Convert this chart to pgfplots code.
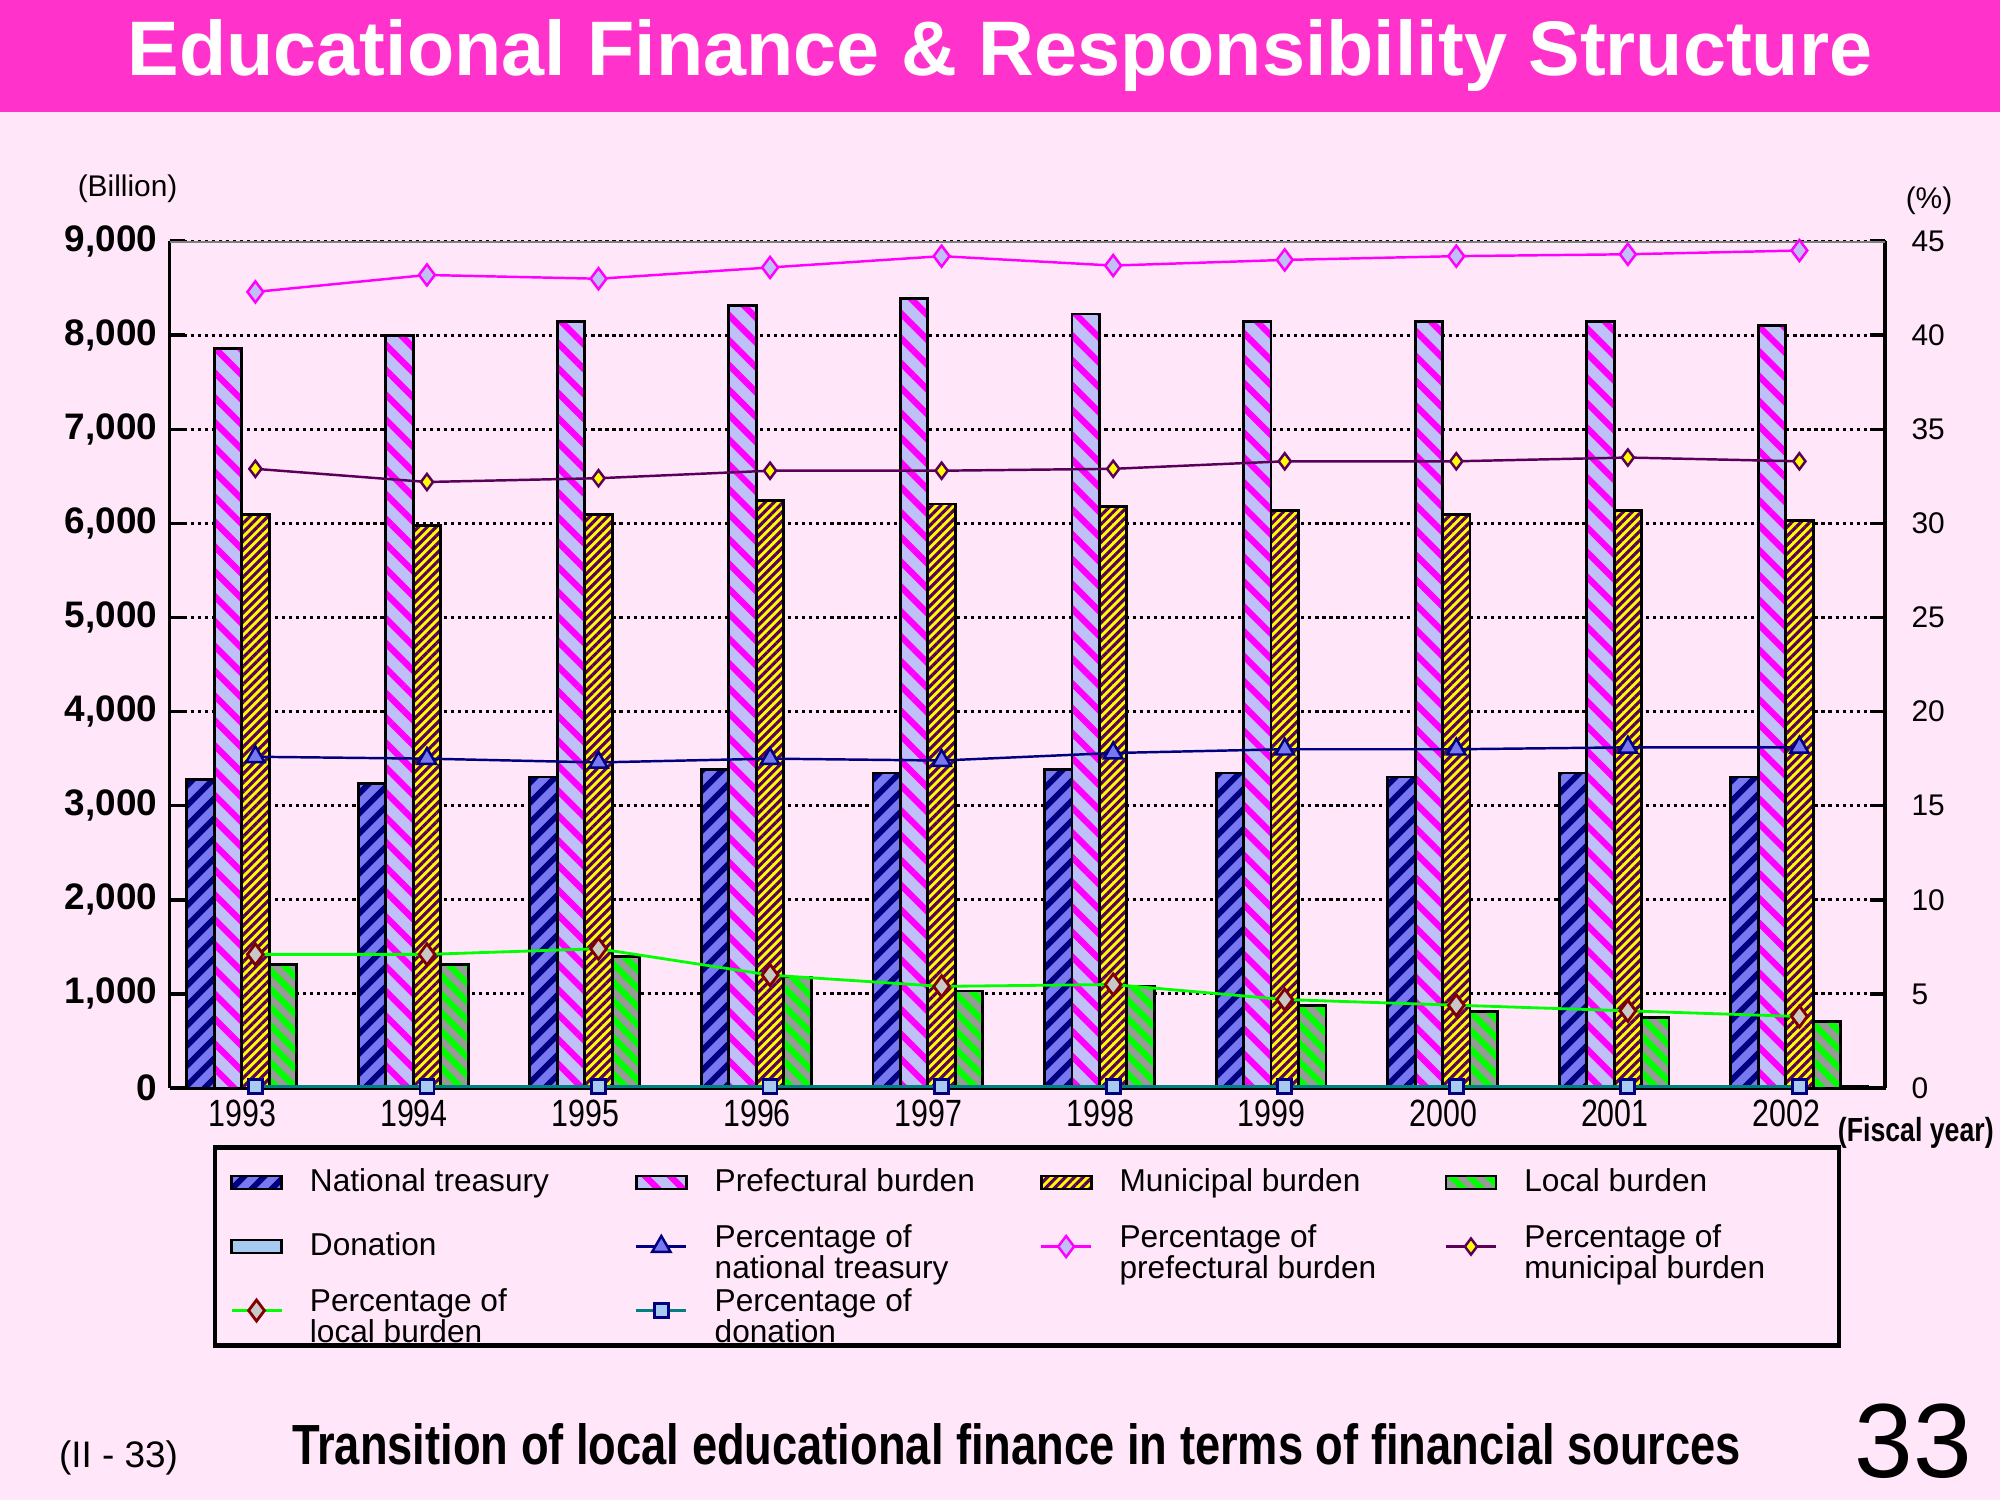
\documentclass[border=0pt]{standalone}
\usepackage{fontspec}
\setmainfont{Liberation Sans}
\newfontfamily\narrowfont[FakeStretch=0.8]{Liberation Sans}
\usepackage{pgfplots}
\pgfplotsset{compat=1.18}
\usetikzlibrary{patterns.meta}

\definecolor{bgpink}{HTML}{FFE6F8}
\definecolor{banner}{HTML}{FF33CC}
\definecolor{natfill}{HTML}{7878F0}
\definecolor{navy}{HTML}{000080}
\definecolor{preffill}{HTML}{C0C0F8}
\definecolor{magenta2}{HTML}{FF00FF}
\definecolor{munfill}{HTML}{FFFF00}
\definecolor{munstripe}{HTML}{5A005A}
\definecolor{localfill}{HTML}{00FF00}
\definecolor{localstripe}{HTML}{999999}
\definecolor{donfill}{HTML}{A6CAF0}
\definecolor{teal2}{HTML}{008080}
\definecolor{locmark}{HTML}{C8C8C8}
\definecolor{locedge}{HTML}{800000}

% legend text: fixed width, lines centred on the row
\newcommand{\lt}[1]{\makebox[3.0cm][l]{\begin{tabular}{@{}l@{}}#1\end{tabular}}}

\pgfplotsset{
  barlegend/.style={legend image code/.code={\draw[##1] (0cm,-0.065cm) rectangle (0.5cm,0.065cm);}},
  linelegend/.style={legend image code/.code={\draw[mark repeat=2,mark phase=2,##1] plot coordinates {(0cm,0cm) (0.25cm,0cm) (0.5cm,0cm)};}},
  natbar/.style={draw=black, line width=0.8pt, preaction={fill=natfill},
    pattern={Lines[angle=45,distance=4pt,line width=1.7pt]}, pattern color=navy},
  prefbar/.style={draw=black, line width=0.8pt, preaction={fill=preffill},
    pattern={Lines[angle=-45,distance=5pt,line width=1.8pt]}, pattern color=magenta2},
  munbar/.style={draw=black, line width=0.8pt, preaction={fill=munfill},
    pattern={Lines[angle=45,distance=1.8pt,line width=0.9pt]}, pattern color=munstripe},
  locbar/.style={draw=black, line width=0.8pt, preaction={fill=localfill},
    pattern={Lines[angle=-45,distance=3.7pt,line width=1.85pt]}, pattern color=localstripe},
  donbar/.style={draw=black, line width=0.8pt, fill=donfill},
}

\begin{document}
\begin{tikzpicture}
\fill[bgpink] (0,0) rectangle (20,15);
\fill[banner] (0,13.878) rectangle (20,15);
\node[text=white, font=\bfseries\fontsize{22}{26}\selectfont] at (10,14.44)
  {Educational Finance \& Responsibility Structure};

% amounts (billion yen)
\begin{axis}[
  at={(1.696cm,4.120cm)}, anchor=south west,
  scale only axis, width=17.156cm, height=8.469cm,
  xmin=-0.5, xmax=9.5, ymin=0, ymax=9000,
  axis x line*=bottom, axis y line*=left,
  axis line style={black, line width=1pt},
  ybar=0pt, bar width=0.16,
  xtick={0,...,9},
  xticklabels={1993,1994,1995,1996,1997,1998,1999,2000,2001,2002},
  x tick style={draw=none},
  x tick label style={font=\narrowfont\fontsize{10.8}{12}\selectfont, xshift=-0.13cm},
  ytick={0,1000,...,9000}, scaled y ticks=false,
  /pgf/number format/assume math mode=true,
  y tick label style={font=\bfseries\fontsize{10.5}{12}\selectfont},
  y tick style={black, line width=1pt}, tick align=inside, major tick length=0.15cm,
  ymajorgrids, grid style={black, line width=0.9pt, dash pattern=on 0.9pt off 1.1pt},
]
\addplot[natbar] coordinates {(0,3280) (1,3240) (2,3306) (3,3388) (4,3347) (5,3388) (6,3347) (7,3306) (8,3347) (9,3306)};
\addplot[prefbar] coordinates {(0,7860) (1,7995) (2,8144) (3,8320) (4,8388) (5,8225) (6,8144) (7,8144) (8,8144) (9,8103)};
\addplot[munbar] coordinates {(0,6098) (1,5976) (2,6098) (3,6247) (4,6206) (5,6179) (6,6138) (7,6098) (8,6138) (9,6030)};
\addplot[locbar] coordinates {(0,1314) (1,1314) (2,1396) (3,1179) (4,1030) (5,1084) (6,880) (7,813) (8,745) (9,705)};
\addplot[donbar] coordinates {(0,12) (1,12) (2,12) (3,12) (4,12) (5,12) (6,12) (7,12) (8,12) (9,12)};
\end{axis}

% shares (%)
\begin{axis}[
  at={(1.696cm,4.120cm)}, anchor=south west,
  scale only axis, width=17.156cm, height=8.469cm,
  xmin=-0.5, xmax=9.5, ymin=0, ymax=45,
  axis x line=none, axis y line*=right,
  axis line style={black, line width=1pt},
  ytick={0,5,...,45},
  /pgf/number format/assume math mode=true,
  y tick label style={font=\fontsize{8.5}{10}\selectfont, xshift=0.14cm},
  y tick style={black, line width=1pt}, tick align=inside, major tick length=0.15cm,
  legend columns=4, legend cell align=left,
  legend style={
    at={(axis description cs:0.0253,-0.0678)}, anchor=north west,
    draw=black, line width=1.2pt, fill=bgpink,
    inner xsep=0.15cm, inner ysep=0.03cm,
    font=\fontsize{9}{8}\selectfont,
    nodes={inner sep=0pt, minimum height=0.64cm},
    /tikz/every odd column/.append style={column sep=0.27cm},
    /tikz/every even column/.append style={column sep=0.25cm},
  },
]
\addlegendimage{natbar, barlegend}
\addlegendentry{\lt{National treasury}}
\addlegendimage{prefbar, barlegend}
\addlegendentry{\lt{Prefectural burden}}
\addlegendimage{munbar, barlegend}
\addlegendentry{\lt{Municipal burden}}
\addlegendimage{locbar, barlegend}
\addlegendentry{\lt{Local burden}}
\addlegendimage{donbar, barlegend}
\addlegendentry{\lt{Donation}}

\addplot[navy, line width=0.7pt, mark=triangle*, mark size=3pt,
  mark options={fill=natfill, draw=navy}, linelegend]
  coordinates {(0,17.6) (1,17.5) (2,17.3) (3,17.5) (4,17.4) (5,17.8) (6,18.0) (7,18.0) (8,18.1) (9,18.1)};
\addlegendentry{\lt{Percentage of\\national treasury}}
\addplot[magenta2, line width=0.7pt, mark=diamond*, mark size=3pt,
  mark options={fill=preffill, draw=magenta2}, linelegend]
  coordinates {(0,42.3) (1,43.2) (2,43.0) (3,43.6) (4,44.2) (5,43.7) (6,44.0) (7,44.2) (8,44.3) (9,44.5)};
\addlegendentry{\lt{Percentage of\\prefectural burden}}
\addplot[munstripe, line width=0.7pt, mark=diamond*, mark size=2.3pt,
  mark options={fill=munfill, draw=munstripe}, linelegend]
  coordinates {(0,32.9) (1,32.2) (2,32.4) (3,32.8) (4,32.8) (5,32.9) (6,33.3) (7,33.3) (8,33.5) (9,33.3)};
\addlegendentry{\lt{Percentage of\\municipal burden}}
\addplot[localfill, line width=0.8pt, mark=diamond*, mark size=3pt,
  mark options={fill=locmark, draw=locedge}, linelegend]
  coordinates {(0,7.1) (1,7.1) (2,7.4) (3,6.0) (4,5.4) (5,5.5) (6,4.7) (7,4.4) (8,4.1) (9,3.8)};
\addlegendentry{\lt{Percentage of\\local burden}}
\addplot[teal2, line width=0.8pt, mark=square*, mark size=2pt,
  mark options={fill=donfill, draw=navy}, linelegend]
  coordinates {(0,0.1) (1,0.1) (2,0.1) (3,0.1) (4,0.1) (5,0.1) (6,0.1) (7,0.1) (8,0.1) (9,0.1)};
\addlegendentry{\lt{Percentage of\\donation}}

\draw[gray, line width=1pt] (rel axis cs:0,1) -- (rel axis cs:1,1);
\end{axis}

\node[font=\fontsize{8.5}{10}\selectfont] at (1.276,13.112) {(Billion)};
\node[font=\fontsize{8.5}{10}\selectfont] at (19.29,12.99) {(\%)};
\node[font=\narrowfont\bfseries\fontsize{9.5}{11}\selectfont] at (19.158,3.673) {(Fiscal year)};
\node[font=\fontsize{10.5}{12}\selectfont] at (1.186,0.421) {(II - 33)};
\node[font=\narrowfont\bfseries\fontsize{16.1}{18}\selectfont] at (10.166,0.561)
  {Transition of local educational finance in terms of financial sources};
\node[font=\fontsize{30}{34}\selectfont] at (19.13,0.587) {33};

\pgfresetboundingbox
\useasboundingbox (0,0) rectangle (20,15);
\end{tikzpicture}
\end{document}
